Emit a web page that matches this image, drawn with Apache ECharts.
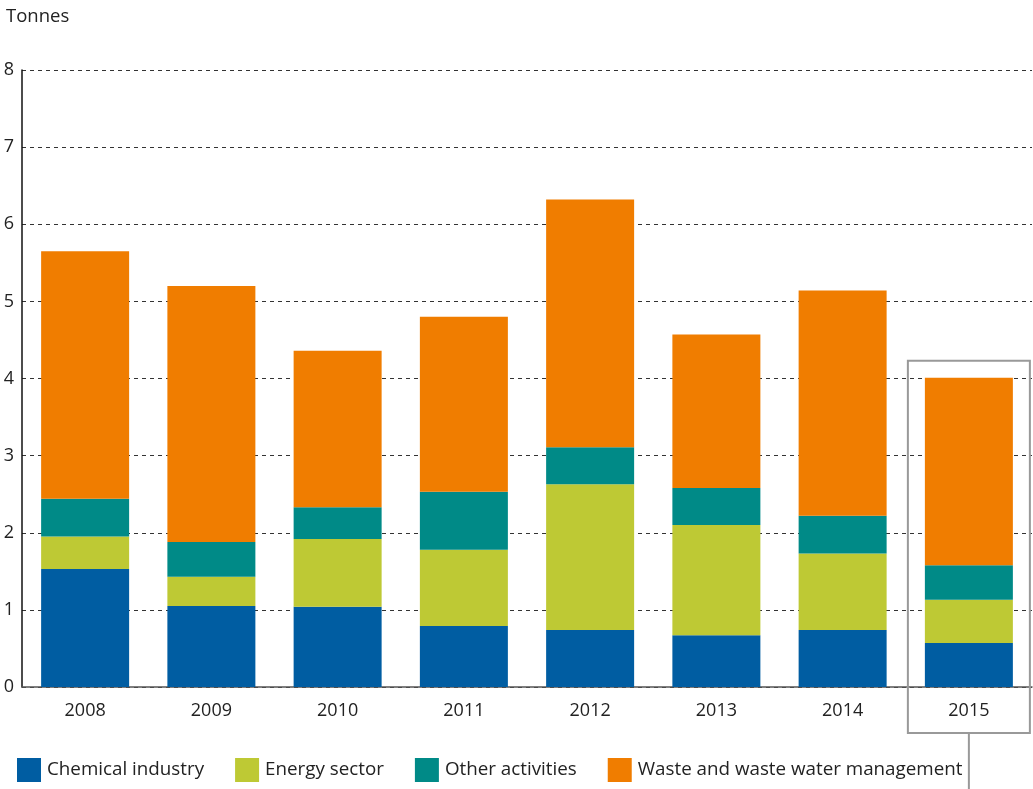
<!DOCTYPE html>
<html>
<head>
<meta charset="utf-8">
<script src="https://cdn.jsdelivr.net/npm/echarts@6/dist/echarts.min.js"></script>
<style>
  html, body { margin: 0; padding: 0; background: #fff; }
  #chart { width: 1033px; height: 789px; }
</style>
</head>
<body>
<div id="chart"></div>
<script>
const years = ['2008', '2009', '2010', '2011', '2012', '2013', '2014', '2015']
const chemical = [1.53, 1.05, 1.04, 0.79, 0.74, 0.67, 0.74, 0.57]
const energy = [0.42, 0.38, 0.88, 0.99, 1.89, 1.43, 0.99, 0.56]
const other = [0.49, 0.45, 0.41, 0.75, 0.48, 0.48, 0.49, 0.45]
const waste = [3.21, 3.32, 2.03, 2.27, 3.21, 1.99, 2.92, 2.43]
const highlightYear = '2015'

const colors = ['#005da2', '#bec934', '#008a87', '#f07d00']
const font = '"Open Sans", "Noto Sans", sans-serif'

const chart = echarts.init(document.getElementById('chart'))

function bar(name, data) {
  return { name, type: 'bar', stack: 'total', data, barWidth: 88 }
}

chart.setOption({
  color: colors,
  animation: false,
  textStyle: { fontFamily: font },
  grid: { left: 22, right: 1, top: 70, bottom: 102 },
  legend: {
    left: 12,
    bottom: 2,
    itemWidth: 24,
    itemHeight: 24,
    itemGap: 31,
    icon: 'rect',
    textStyle: { fontSize: 18.8, color: '#222', fontFamily: font, padding: [0, 0, 0, 1] },
    data: ['Chemical industry', 'Energy sector', 'Other activities', 'Waste and waste water management'],
  },
  xAxis: {
    type: 'category',
    data: years,
    axisLine: { lineStyle: { color: '#555', width: 1.5 } },
    axisTick: { show: false },
    axisLabel: { color: '#222', fontSize: 18, margin: 15 },
  },
  yAxis: {
    type: 'value',
    min: 0,
    max: 8,
    interval: 1,
    name: 'Tonnes',
    nameLocation: 'end',
    nameGap: 0,
    nameTextStyle: { align: 'left', color: '#222', fontSize: 18.5, padding: [0, 0, 44, -16] },
    axisLine: { show: true, lineStyle: { color: '#111', width: 1.5 } },
    axisTick: { show: false },
    axisLabel: { color: '#222', fontSize: 18, margin: 8 },
    splitLine: { lineStyle: { color: '#333', type: [4, 4], width: 1 } },
  },
  series: [
    bar('Chemical industry', chemical),
    bar('Energy sector', energy),
    bar('Other activities', other),
    bar('Waste and waste water management', waste),
  ],
})

// highlight box around the last year
const boxX = chart.convertToPixel({ xAxisIndex: 0 }, highlightYear)
const boxTop = chart.convertToPixel({ yAxisIndex: 0 }, 4.23)
chart.setOption({
  graphic: [
    {
      type: 'rect',
      shape: { x: boxX - 61, y: boxTop, width: 122, height: 733 - boxTop },
      style: { fill: 'none', stroke: '#999', lineWidth: 2 },
      z: 100,
    },
    {
      type: 'line',
      shape: { x1: boxX, y1: 733, x2: boxX, y2: 789 },
      style: { stroke: '#999', lineWidth: 2 },
      z: 100,
    },
  ],
})
</script>
</body>
</html>
